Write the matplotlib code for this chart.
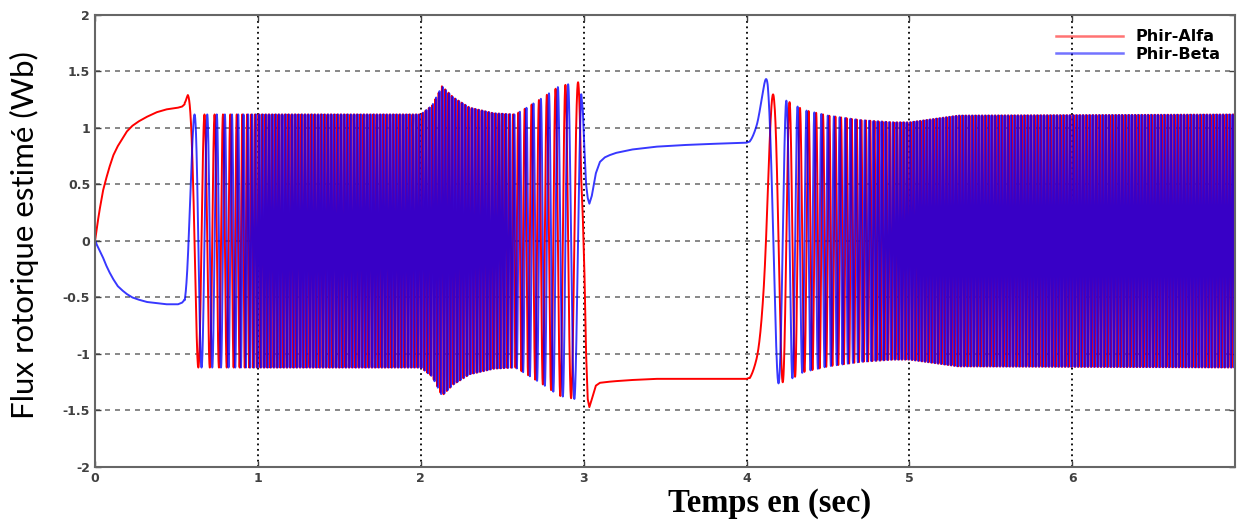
import numpy as np
import matplotlib
matplotlib.use("Agg")
import matplotlib.pyplot as plt

# start-up transient, 0 -> 0.55 s
t_start = [0.0, 0.005, 0.01, 0.02, 0.03, 0.04, 0.05, 0.07, 0.09, 0.113, 0.14, 0.17, 0.196, 0.23, 0.27, 0.32, 0.38, 0.44, 0.51, 0.535, 0.55]
alfa_start = [0.0, 0.05, 0.10, 0.20, 0.29, 0.37, 0.45, 0.56, 0.66, 0.76, 0.84, 0.91, 0.97, 1.02, 1.06, 1.10, 1.14, 1.165, 1.18, 1.19, 1.21]
beta_start = [0.0, -0.01, -0.03, -0.06, -0.09, -0.12, -0.15, -0.22, -0.28, -0.34, -0.40, -0.44, -0.47, -0.50, -0.52, -0.54, -0.55, -0.56, -0.56, -0.545, -0.52]

# first rotating phase (0.55 -> 2.985 s): stator frequency (Hz) and flux amplitude (Wb)
t_freq1 = [0.55, 0.57, 0.6, 0.63, 0.68, 0.75, 0.85, 0.92, 0.97, 1.05, 2.0, 2.15, 2.5, 2.56, 2.6, 2.8, 2.9, 2.985]
freq1 = [1, 4, 8, 12, 15, 19, 25, 34, 44, 50, 50, 50, 48, 40, 26, 19, 15, 9]
t_amp1 = [0.55, 0.57, 0.6, 0.65, 2.0, 2.07, 2.13, 2.2, 2.3, 2.45, 2.58, 2.65, 2.75, 2.85, 2.95, 2.985]
amp1 = [1.33, 1.30, 1.12, 1.12, 1.12, 1.20, 1.37, 1.27, 1.18, 1.13, 1.12, 1.18, 1.27, 1.37, 1.40, 1.41]

# standstill (2.985 -> 4.02 s)
t_hold = [2.985, 2.995, 3.005, 3.015, 3.025, 3.035, 3.05, 3.075, 3.1, 3.13, 3.16, 3.2, 3.3, 3.45, 3.63, 3.8, 4.0, 4.02]
alfa_hold = [0.55, 0.2, -0.3, -1.0, -1.4, -1.47, -1.40, -1.28, -1.255, -1.25, -1.245, -1.24, -1.23, -1.22, -1.22, -1.22, -1.22, -1.21]
beta_hold = [1.3, 1.15, 0.8, 0.5, 0.38, 0.33, 0.4, 0.6, 0.7, 0.74, 0.76, 0.78, 0.81, 0.835, 0.85, 0.86, 0.87, 0.88]

# reversed rotation (4.02 -> 7 s)
t_freq2 = [4.02, 4.06, 4.1, 4.14, 4.2, 4.3, 4.45, 4.6, 4.8, 4.95, 5.05, 7.0]
freq2 = [0.3, 0.8, 2.5, 5.5, 9, 16, 24, 30, 40, 48, 50, 50]
t_amp2 = [4.02, 4.1, 4.13, 4.17, 4.25, 4.35, 4.5, 4.7, 4.9, 5.0, 5.15, 5.3, 7.0]
amp2 = [1.50, 1.42, 1.44, 1.27, 1.24, 1.16, 1.11, 1.07, 1.05, 1.05, 1.08, 1.11, 1.12]

dt = 2e-4


def rotate(t_f, f, t_a, a, th0, sign, th_end=None):
    t = np.arange(t_f[0], t_f[-1] + dt / 2, dt)
    fr = np.interp(t, t_f, f)
    ph = np.concatenate([[0], np.cumsum((fr[1:] + fr[:-1]) / 2 * dt)]) * 2 * np.pi * sign
    th = th0 + ph
    if th_end is not None:
        # small linear correction so the end angle meets the next segment
        d = (th_end - th[-1] + np.pi) % (2 * np.pi) - np.pi
        th = th + d * (t - t[0]) / (t[-1] - t[0])
    A = np.interp(t, t_a, a)
    return t, A * np.cos(th), A * np.sin(th)


th0 = np.arctan2(beta_start[-1], alfa_start[-1])
th1 = np.arctan2(beta_hold[0], alfa_hold[0])
t1, a1, b1 = rotate(t_freq1, freq1, t_amp1, amp1, th0, 1, th1)
th2 = np.arctan2(beta_hold[-1], alfa_hold[-1])
t2, a2, b2 = rotate(t_freq2, freq2, t_amp2, amp2, th2, -1)

t = np.concatenate([t_start, t1[1:], t_hold[1:], t2[1:]])
alfa = np.concatenate([alfa_start, a1[1:], alfa_hold[1:], a2[1:]])
beta = np.concatenate([beta_start, b1[1:], beta_hold[1:], b2[1:]])

fig = plt.figure(figsize=(12.42, 5.24), dpi=100)
ax = fig.add_axes([0.0765, 0.1088, 0.9179, 0.8626])

l1, = ax.plot(t, alfa, color=(1, 0, 0), lw=1.4, label='Phir-Alfa')
l2, = ax.plot(t, beta, color=(0, 0, 1), lw=1.4, alpha=0.78, label='Phir-Beta')

ax.set_xlim(0, 6.999)
ax.set_ylim(-2, 2)
ax.set_xticks(range(0, 7))
ax.set_yticks(np.arange(-2, 2.01, 0.5))
ax.set_yticklabels(['-2', '-1.5', '-1', '-0.5', '0', '0.5', '1', '1.5', '2'])

for x in range(1, 7):
    ax.axvline(x, color='black', ls=(0, (1, 2)), lw=1.3, zorder=0)
for y in np.arange(-1.5, 1.51, 0.5):
    ax.axhline(y, color='0.45', ls=(0, (3, 3)), lw=1.2, zorder=0)

for s in ax.spines.values():
    s.set_color('0.4')
    s.set_linewidth(1.5)
ax.tick_params(direction='in', length=4, width=1, colors='0.25', top=True, right=True,
               labelsize=9)
for lab in ax.get_xticklabels() + ax.get_yticklabels():
    lab.set_fontweight('bold')
    lab.set_family('DejaVu Sans')

ax.set_ylabel('Flux rotorique estimé (Wb)', fontsize=22.5, family='Lato')
ax.yaxis.set_label_coords(-0.049, 0.513)
ax.text(0.592, -0.046, 'Temps en (sec)', transform=ax.transAxes, ha='center', va='top',
        fontsize=23.5, fontweight='bold', family='Liberation Serif')

leg = ax.legend(loc='upper right', frameon=False, handlelength=4.2,
                prop={'weight': 'bold', 'family': 'DejaVu Sans', 'size': 11.5},
                borderaxespad=0.5, labelspacing=0.15, handletextpad=0.8)
for h in leg.get_lines():
    h.set_alpha(0.55)
    h.set_linewidth(1.8)

fig.savefig('out.png', dpi=100)
